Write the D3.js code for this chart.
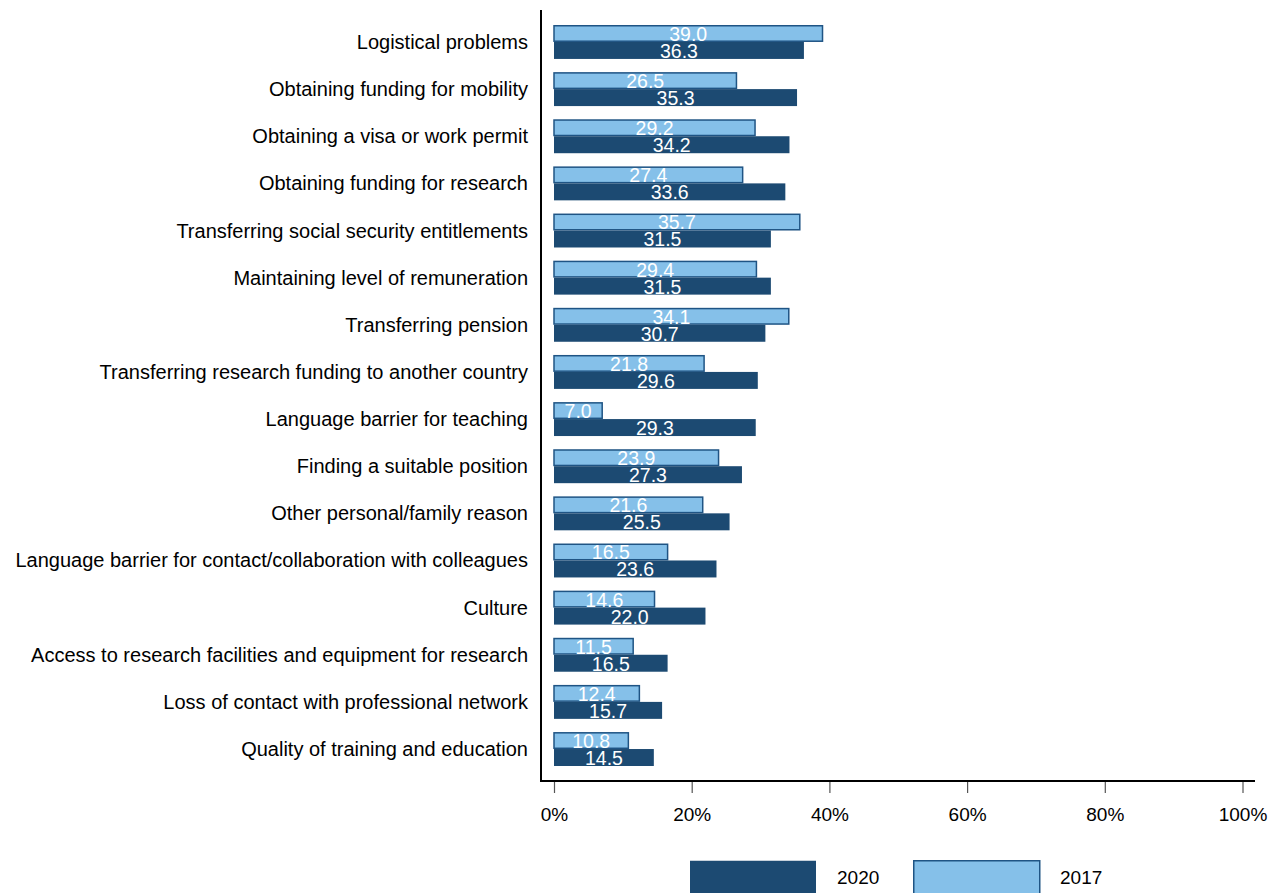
<!DOCTYPE html>
<html><head><meta charset="utf-8">
<script src="https://cdn.jsdelivr.net/npm/d3@7"></script>
<style>body{margin:0;background:#fff}svg{display:block}text{font-family:"Liberation Sans",Arial,sans-serif}</style>
</head><body><svg id="c" width="1284" height="893"></svg>
<script>
const categories = ["Logistical problems","Obtaining funding for mobility","Obtaining a visa or work permit","Obtaining funding for research","Transferring social security entitlements","Maintaining level of remuneration","Transferring pension","Transferring research funding to another country","Language barrier for teaching","Finding a suitable position","Other personal/family reason","Language barrier for contact/collaboration with colleagues","Culture","Access to research facilities and equipment for research","Loss of contact with professional network","Quality of training and education"];
const values2017 = [39.0,26.5,29.2,27.4,35.7,29.4,34.1,21.8,7.0,23.9,21.6,16.5,14.6,11.5,12.4,10.8];
const values2020 = [36.3,35.3,34.2,33.6,31.5,31.5,30.7,29.6,29.3,27.3,25.5,23.6,22.0,16.5,15.7,14.5];
const series = ["2017","2020"];
const legendOrder = ["2020","2017"];
const xTicks = [0,20,40,60,80,100];

const dark = "#1c4a72", light = "#85c0e9", stroke = "#1f5484";
const svg = d3.select("#c");
const x = d3.scaleLinear().domain([0,100]).range([554,1242.5]);
const y = d3.scaleBand().domain(categories).range([18.4,772.6]).paddingInner(0.28).paddingOuter(0.14);
const ys = d3.scaleBand().domain(series).range([0,y.bandwidth()]);
const data = categories.map((c,i)=>({c, v:{"2017":values2017[i],"2020":values2020[i]}}));

// frame axes
svg.append("line").attr("x1",541).attr("x2",541).attr("y1",10).attr("y2",782).attr("stroke","#000").attr("stroke-width",2);
svg.append("line").attr("x1",540).attr("x2",1255).attr("y1",781).attr("y2",781).attr("stroke","#000").attr("stroke-width",2);

const xa = svg.append("g").attr("transform","translate(0,782)")
  .call(d3.axisBottom(x).tickValues(xTicks).tickSize(11).tickSizeOuter(0).tickFormat(d=>d+"%"));
xa.select(".domain").remove();
xa.selectAll(".tick line").attr("stroke","#555").attr("stroke-width",1.2);
xa.selectAll(".tick text").attr("font-size",19).attr("fill","#000").attr("dy","1.3em").attr("font-family","Liberation Sans, Arial, sans-serif");

// category labels
svg.append("g").selectAll("text").data(categories).join("text")
  .attr("x",528).attr("y",d=>y(d)+y.bandwidth()/2).attr("dy","0.35em")
  .attr("text-anchor","end").attr("font-size",20).attr("fill","#000").text(d=>d);

const g = svg.append("g").selectAll("g").data(data).join("g").attr("transform",d=>`translate(0,${y(d.c)})`);
series.forEach(s=>{
  const isL = s==="2017";
  g.append("rect").attr("x",x(0)).attr("y",ys(s)+(isL?0.75:0)).attr("width",d=>x(d.v[s])-x(0)).attr("height",ys.bandwidth()-(isL?1.5:0))
    .attr("fill",isL?light:dark).attr("stroke",isL?stroke:"none").attr("stroke-width",1.5);
  g.append("text").attr("x",d=>x(d.v[s]/2)).attr("y",ys(s)+ys.bandwidth()/2).attr("dy","0.38em")
    .attr("text-anchor","middle").attr("font-size",19.5).attr("fill","#fff").text(d=>d.v[s].toFixed(1));
});

// legend
const lx = d3.scaleOrdinal().domain(legendOrder).range([690,913]);
const lg = svg.append("g").selectAll("g").data(legendOrder).join("g");
lg.append("rect").attr("x",d=>lx(d)+(d==="2017"?0.75:0)).attr("y",860.75).attr("width",126).attr("height",40)
  .attr("fill",d=>d==="2017"?light:dark).attr("stroke",d=>d==="2017"?stroke:"none").attr("stroke-width",1.5);
lg.append("text").attr("x",d=>lx(d)+147).attr("y",884).attr("font-size",19).attr("fill","#000").text(d=>d);
</script></body></html>
